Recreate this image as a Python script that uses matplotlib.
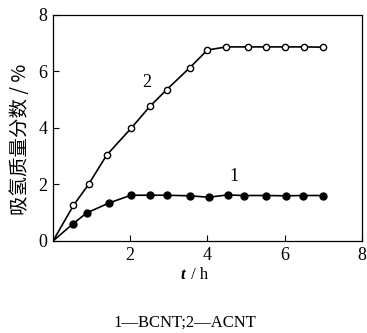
import matplotlib
matplotlib.use("Agg")
import matplotlib.pyplot as plt

# curve 1 (BCNT), filled markers
t1 = [0, 0.51, 0.87, 1.44, 2.02, 2.52, 2.94, 3.54, 4.03, 4.52, 4.96, 5.53, 6.04, 6.47, 7.0]
w1 = [0, 0.60, 0.99, 1.34, 1.62, 1.62, 1.62, 1.60, 1.55, 1.63, 1.61, 1.61, 1.60, 1.61, 1.61]
# curve 2 (ACNT), open markers
t2 = [0, 0.53, 0.92, 1.39, 2.03, 2.52, 2.94, 3.54, 4.0, 4.49, 5.04, 5.53, 6.0, 6.5, 7.0]
w2 = [0, 1.26, 2.0, 3.04, 4.0, 4.78, 5.35, 6.13, 6.76, 6.87, 6.87, 6.87, 6.87, 6.87, 6.86]

xticks = [2, 4, 6, 8]
yticks = [0, 2, 4, 6, 8]

serif = ["Liberation Serif", "DejaVu Serif"]
cjk = ["Noto Sans CJK SC", "DejaVu Sans"]

fig = plt.figure(figsize=(3.67, 3.33), dpi=100)
ax = fig.add_axes([0.1444, 0.2763, 0.8416, 0.6787])

ax.plot(t1, w1, color="black", lw=1.2)
ax.plot(t1[1:], w1[1:], "o", ms=5, mfc="black", mec="black", ls="none")
ax.plot(t2, w2, color="black", lw=1.2)
ax.plot(t2[1:], w2[1:], "o", ms=4.5, mfc="white", mec="black", mew=1.0, ls="none")

ax.set_xlim(0, 8)
ax.set_ylim(0, 8)
ax.set_xticks(xticks)
ax.set_yticks(yticks)
ax.tick_params(direction="in", length=4, width=0.8, labelsize=13, pad=4)
for lab in ax.get_xticklabels() + ax.get_yticklabels():
    lab.set_family(serif)

for s in ax.spines.values():
    s.set_linewidth(0.9)

# curve numbers
ax.text(2.42, 5.6, "2", fontsize=13, family=serif, ha="center", va="center")
ax.text(4.7, 2.27, "1", fontsize=13, family=serif, ha="center", va="center")

fig.text(0.505, 0.175, "t", fontsize=12, family=serif, style="italic",
         weight="bold", ha="right", va="center")
fig.text(0.51, 0.175, " / h", fontsize=12, family=serif, ha="left", va="center")

fig.text(0.055, 0.58, "吸氢质量分数 / %", rotation=90, fontsize=14,
         family=cjk, ha="center", va="center")

fig.text(0.505, 0.03, "1—BCNT;2—ACNT", fontsize=12, family=serif + cjk,
         ha="center", va="center")

plt.savefig("out.png", dpi=100)
